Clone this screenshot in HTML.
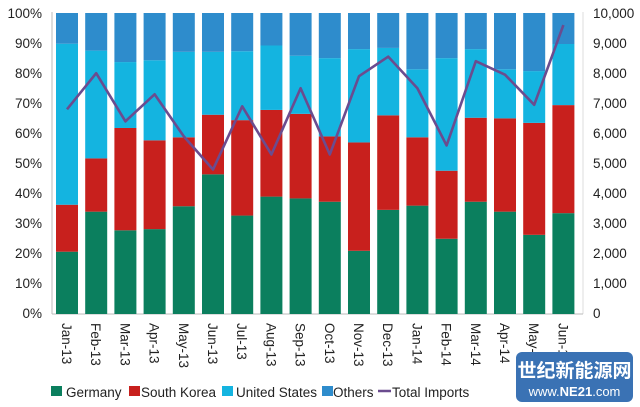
<!DOCTYPE html>
<html><head><meta charset="utf-8"><style>
html,body{margin:0;padding:0;background:#fff;}
svg{display:block;font-family:"Liberation Sans",Arial,sans-serif;}
</style></head><body>
<svg width="640" height="407" viewBox="0 0 640 407" xmlns="http://www.w3.org/2000/svg">
<rect width="640" height="407" fill="#fff"/>
<g fill="#222" font-size="13.5" text-anchor="end">
<text x="42" y="18">100%</text><text x="42" y="48">90%</text><text x="42" y="78">80%</text><text x="42" y="108">70%</text><text x="42" y="138">60%</text><text x="42" y="168">50%</text><text x="42" y="198">40%</text><text x="42" y="228">30%</text><text x="42" y="258">20%</text><text x="42" y="288">10%</text><text x="42" y="318">0%</text>
</g>
<g fill="#222" font-size="13.5" text-anchor="start">
<text x="593" y="18">10,000</text><text x="593" y="48">9,000</text><text x="593" y="78">8,000</text><text x="593" y="108">7,000</text><text x="593" y="138">6,000</text><text x="593" y="168">5,000</text><text x="593" y="198">4,000</text><text x="593" y="228">3,000</text><text x="593" y="258">2,000</text><text x="593" y="288">1,000</text><text x="593" y="318">0</text>
</g>
<line x1="52" y1="12" x2="52" y2="314" stroke="#bbb"/>
<line x1="583" y1="12" x2="583" y2="314" stroke="#ddd"/>
<line x1="52" y1="314" x2="583" y2="314" stroke="#bbb"/>
<g transform="translate(0,314) scale(1,-3.01)">
<g transform="translate(56,0)"><rect width="22" height="20.7" fill="#0b7f5e"/><rect y="20.7" width="22" height="15.6" fill="#c8201d"/><rect y="36.3" width="22" height="53.5" fill="#14b4e0"/><rect y="89.8" width="22" height="10.2" fill="#2e8ccc"/></g>
<g transform="translate(85.2,0)"><rect width="22" height="34" fill="#0b7f5e"/><rect y="34" width="22" height="17.7" fill="#c8201d"/><rect y="51.7" width="22" height="35.8" fill="#14b4e0"/><rect y="87.5" width="22" height="12.5" fill="#2e8ccc"/></g>
<g transform="translate(114.4,0)"><rect width="22" height="27.8" fill="#0b7f5e"/><rect y="27.8" width="22" height="34" fill="#c8201d"/><rect y="61.8" width="22" height="21.9" fill="#14b4e0"/><rect y="83.7" width="22" height="16.3" fill="#2e8ccc"/></g>
<g transform="translate(143.6,0)"><rect width="22" height="28.2" fill="#0b7f5e"/><rect y="28.2" width="22" height="29.5" fill="#c8201d"/><rect y="57.7" width="22" height="26.6" fill="#14b4e0"/><rect y="84.3" width="22" height="15.7" fill="#2e8ccc"/></g>
<g transform="translate(172.8,0)"><rect width="22" height="35.8" fill="#0b7f5e"/><rect y="35.8" width="22" height="22.9" fill="#c8201d"/><rect y="58.7" width="22" height="28.4" fill="#14b4e0"/><rect y="87.1" width="22" height="12.9" fill="#2e8ccc"/></g>
<g transform="translate(202,0)"><rect width="22" height="46.4" fill="#0b7f5e"/><rect y="46.4" width="22" height="19.8" fill="#c8201d"/><rect y="66.2" width="22" height="20.9" fill="#14b4e0"/><rect y="87.1" width="22" height="12.9" fill="#2e8ccc"/></g>
<g transform="translate(231.2,0)"><rect width="22" height="32.7" fill="#0b7f5e"/><rect y="32.7" width="22" height="31.7" fill="#c8201d"/><rect y="64.4" width="22" height="22.9" fill="#14b4e0"/><rect y="87.3" width="22" height="12.7" fill="#2e8ccc"/></g>
<g transform="translate(260.4,0)"><rect width="22" height="39" fill="#0b7f5e"/><rect y="39" width="22" height="28.8" fill="#c8201d"/><rect y="67.8" width="22" height="21.4" fill="#14b4e0"/><rect y="89.2" width="22" height="10.8" fill="#2e8ccc"/></g>
<g transform="translate(289.6,0)"><rect width="22" height="38.4" fill="#0b7f5e"/><rect y="38.4" width="22" height="28.1" fill="#c8201d"/><rect y="66.5" width="22" height="19.3" fill="#14b4e0"/><rect y="85.8" width="22" height="14.2" fill="#2e8ccc"/></g>
<g transform="translate(318.8,0)"><rect width="22" height="37.3" fill="#0b7f5e"/><rect y="37.3" width="22" height="21.7" fill="#c8201d"/><rect y="59" width="22" height="26" fill="#14b4e0"/><rect y="85" width="22" height="15" fill="#2e8ccc"/></g>
<g transform="translate(348,0)"><rect width="22" height="21" fill="#0b7f5e"/><rect y="21" width="22" height="36" fill="#c8201d"/><rect y="57" width="22" height="31" fill="#14b4e0"/><rect y="88" width="22" height="12" fill="#2e8ccc"/></g>
<g transform="translate(377.2,0)"><rect width="22" height="34.6" fill="#0b7f5e"/><rect y="34.6" width="22" height="31.4" fill="#c8201d"/><rect y="66" width="22" height="22.4" fill="#14b4e0"/><rect y="88.4" width="22" height="11.6" fill="#2e8ccc"/></g>
<g transform="translate(406.4,0)"><rect width="22" height="36" fill="#0b7f5e"/><rect y="36" width="22" height="22.7" fill="#c8201d"/><rect y="58.7" width="22" height="22.6" fill="#14b4e0"/><rect y="81.3" width="22" height="18.7" fill="#2e8ccc"/></g>
<g transform="translate(435.6,0)"><rect width="22" height="25" fill="#0b7f5e"/><rect y="25" width="22" height="22.6" fill="#c8201d"/><rect y="47.6" width="22" height="37.4" fill="#14b4e0"/><rect y="85" width="22" height="15" fill="#2e8ccc"/></g>
<g transform="translate(464.8,0)"><rect width="22" height="37.3" fill="#0b7f5e"/><rect y="37.3" width="22" height="27.9" fill="#c8201d"/><rect y="65.2" width="22" height="22.8" fill="#14b4e0"/><rect y="88" width="22" height="12" fill="#2e8ccc"/></g>
<g transform="translate(494,0)"><rect width="22" height="34" fill="#0b7f5e"/><rect y="34" width="22" height="31" fill="#c8201d"/><rect y="65" width="22" height="16.3" fill="#14b4e0"/><rect y="81.3" width="22" height="18.7" fill="#2e8ccc"/></g>
<g transform="translate(523.2,0)"><rect width="22" height="26.3" fill="#0b7f5e"/><rect y="26.3" width="22" height="37.2" fill="#c8201d"/><rect y="63.5" width="22" height="17.2" fill="#14b4e0"/><rect y="80.7" width="22" height="19.3" fill="#2e8ccc"/></g>
<g transform="translate(552.4,0)"><rect width="22" height="33.5" fill="#0b7f5e"/><rect y="33.5" width="22" height="35.9" fill="#c8201d"/><rect y="69.4" width="22" height="20.3" fill="#14b4e0"/><rect y="89.7" width="22" height="10.3" fill="#2e8ccc"/></g>
<polyline fill="none" stroke="#6b4c8f" stroke-width="2.6" vector-effect="non-scaling-stroke" stroke-linejoin="round" points="67,68 96.2,80 125.4,64 154.6,73 183.8,59 213,48 242.2,69 271.4,53 300.6,75 329.8,53 359,79 388.2,85.5 417.4,75 446.6,56 475.8,84 505,79.5 534.2,69.5 563.4,96"/>
</g>
<g fill="#222" font-size="13.5">
<text transform="translate(62,323) rotate(90)">Jan-13</text>
<text transform="translate(91.2,323) rotate(90)">Feb-13</text>
<text transform="translate(120.4,323) rotate(90)">Mar-13</text>
<text transform="translate(149.6,323) rotate(90)">Apr-13</text>
<text transform="translate(178.8,323) rotate(90)">May-13</text>
<text transform="translate(208,323) rotate(90)">Jun-13</text>
<text transform="translate(237.2,323) rotate(90)">Jul-13</text>
<text transform="translate(266.4,323) rotate(90)">Aug-13</text>
<text transform="translate(295.6,323) rotate(90)">Sep-13</text>
<text transform="translate(324.8,323) rotate(90)">Oct-13</text>
<text transform="translate(354,323) rotate(90)">Nov-13</text>
<text transform="translate(383.2,323) rotate(90)">Dec-13</text>
<text transform="translate(412.4,323) rotate(90)">Jan-14</text>
<text transform="translate(441.6,323) rotate(90)">Feb-14</text>
<text transform="translate(470.8,323) rotate(90)">Mar-14</text>
<text transform="translate(500,323) rotate(90)">Apr-14</text>
<text transform="translate(529.2,323) rotate(90)">May-14</text>
<text transform="translate(558.4,323) rotate(90)">Jun-14</text>
</g>
<g font-size="13.5" fill="#222">
<rect x="51" y="386" width="11" height="10" fill="#0b7f5e"/><text x="66" y="397">Germany</text>
<rect x="129" y="386" width="11" height="10" fill="#c8201d"/><text x="141" y="397">South Korea</text>
<rect x="222" y="386" width="11" height="10" fill="#14b4e0"/><text x="236" y="397">United States</text>
<rect x="322" y="386" width="11" height="10" fill="#2e8ccc"/><text x="333" y="397">Others</text>
<line x1="378" y1="391" x2="391" y2="391" stroke="#6b4c8f" stroke-width="2.5"/><text x="392" y="397">Total Imports</text>
</g>
<rect x="516" y="352" width="117" height="50" rx="6" fill="#3a72b4"/>
<text x="574.5" y="377" font-size="19" font-weight="bold" fill="#fff" text-anchor="middle" font-family="'Noto Sans CJK SC',sans-serif">世纪新能源网</text>
<text x="574.5" y="396" font-size="13" fill="#fff" text-anchor="middle">www.<tspan font-weight="bold">NE21</tspan>.com</text>
</svg>
</body></html>
